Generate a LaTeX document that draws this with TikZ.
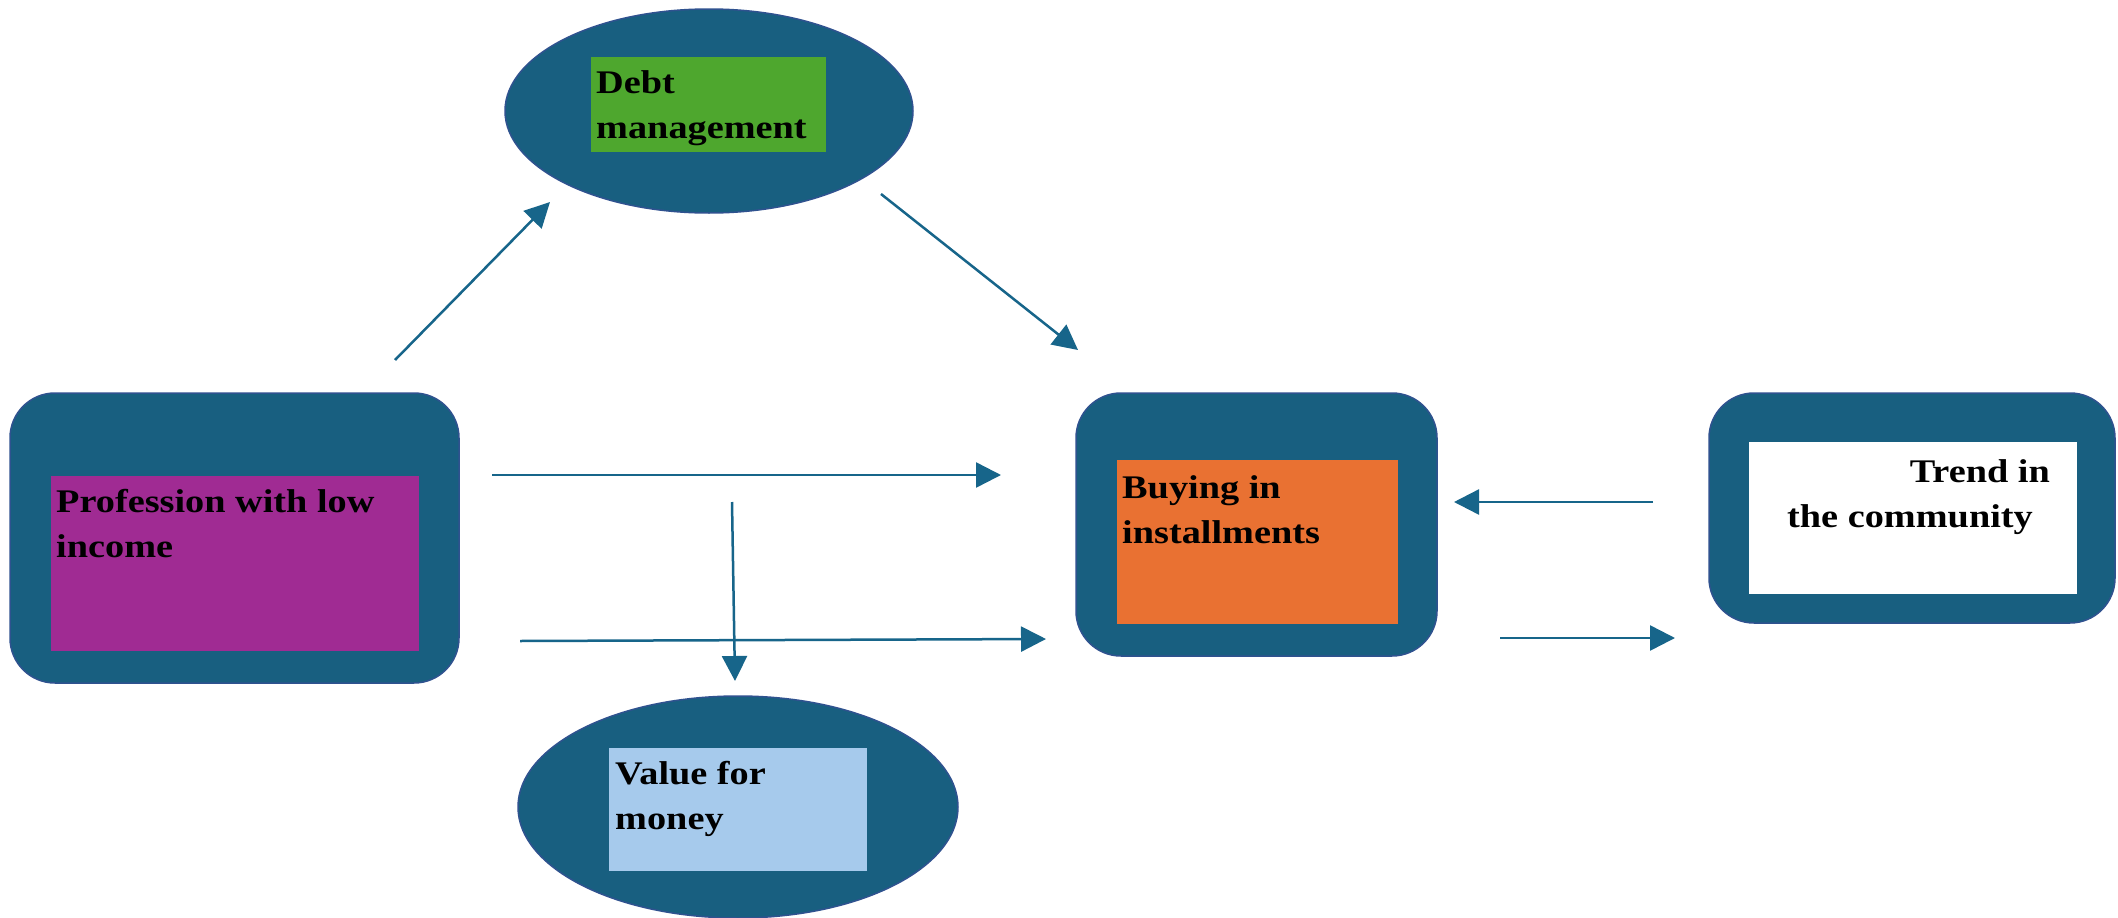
\documentclass[tikz,border=0pt]{standalone}
\usepackage{fontspec}
\setmainfont[FakeStretch=1.16]{Liberation Serif}
\usetikzlibrary{shapes.geometric,arrows.meta}
\definecolor{darkteal}{HTML}{185F80}
\definecolor{edgeblue}{HTML}{2F528F}
\definecolor{arrowteal}{HTML}{17658A}
\definecolor{cpurple}{HTML}{A02B93}
\definecolor{cgreen}{HTML}{4EA72E}
\definecolor{corange}{HTML}{E97132}
\definecolor{clightblue}{HTML}{A6CAEC}
\tikzset{
  outerbox/.style={draw=edgeblue,line width=1.5pt,fill=darkteal,rounded corners=45pt,inner sep=0pt},
  outerell/.style={ellipse,draw=edgeblue,line width=1.5pt,fill=darkteal,inner sep=0pt},
  innerbox/.style={rectangle,inner sep=0pt},
  lbl/.style={inner sep=0pt,font=\bfseries\fontsize{33}{45}\selectfont,text=black},
  conn/.style={draw=arrowteal,line width=2.5pt,-{Triangle[length=25pt,width=25pt]}}
}
\begin{document}
\begin{tikzpicture}[x=1pt,y=-1pt]
\useasboundingbox (0,0) rectangle (2118,918);
\fill[white] (0,0) rectangle (2118,918);

% Profession with low income
\node[outerbox,minimum width=449pt,minimum height=290pt] (prof) at (234.5,538) {};
\node[innerbox,fill=cpurple,minimum width=368pt,minimum height=175pt] (profin) at (235,563.5) {};
\node[lbl,anchor=base west,align=left] (proft) at (56,557) {Profession with low\\income};

% Debt management
\node[outerell,minimum width=408pt,minimum height=204pt] (debt) at (709,111) {};
\node[innerbox,fill=cgreen,minimum width=235pt,minimum height=95pt] (debtin) at (708.5,104.5) {};
\node[lbl,anchor=base west,align=left] (debtt) at (596,138) {Debt\\management};

% Value for money
\node[outerell,minimum width=440pt,minimum height=222pt] (value) at (738,807) {};
\node[innerbox,fill=clightblue,minimum width=258pt,minimum height=123pt] (valuein) at (738,809.5) {};
\node[lbl,anchor=base west,align=left] (valuet) at (615,829) {Value for\\money};

% Buying in installments
\node[outerbox,minimum width=361pt,minimum height=263pt] (buy) at (1256.5,524.5) {};
\node[innerbox,fill=corange,minimum width=281pt,minimum height=164pt] (buyin) at (1257.5,542) {};
\node[lbl,anchor=base west,align=left] (buyt) at (1122,543) {Buying in\\installments};

% Trend in the community
\node[outerbox,minimum width=406pt,minimum height=230pt] (trend) at (1912,508) {};
\node[innerbox,fill=white,minimum width=328pt,minimum height=152pt] (trendin) at (1913,518) {};
\node[lbl,anchor=base east,align=right] (trendt) at (2050,527) {Trend in\\the community\hspace*{17pt}};

% connector end points
\coordinate (a1s) at (395,360);  \coordinate (a1e) at (550,202);
\coordinate (a2s) at (881,194);  \coordinate (a2e) at (1078,350);
\coordinate (a3s) at (492,475);  \coordinate (a3e) at (1001,475);
\coordinate (a4s) at (732,502);  \coordinate (a4e) at (735,681);
\coordinate (a5s) at (520,641);  \coordinate (a5e) at (1046,639);
\coordinate (a6s) at (1653,502); \coordinate (a6e) at (1454,502);
\coordinate (a7s) at (1500,638); \coordinate (a7e) at (1675,638);

\draw[conn] (a1s) -- (a1e);
\draw[conn] (a2s) -- (a2e);
\draw[conn] (a3s) -- (a3e);
\draw[conn] (a4s) -- (a4e);
\draw[conn] (a5s) -- (a5e);
\draw[conn] (a6s) -- (a6e);
\draw[conn] (a7s) -- (a7e);
\end{tikzpicture}
\end{document}
